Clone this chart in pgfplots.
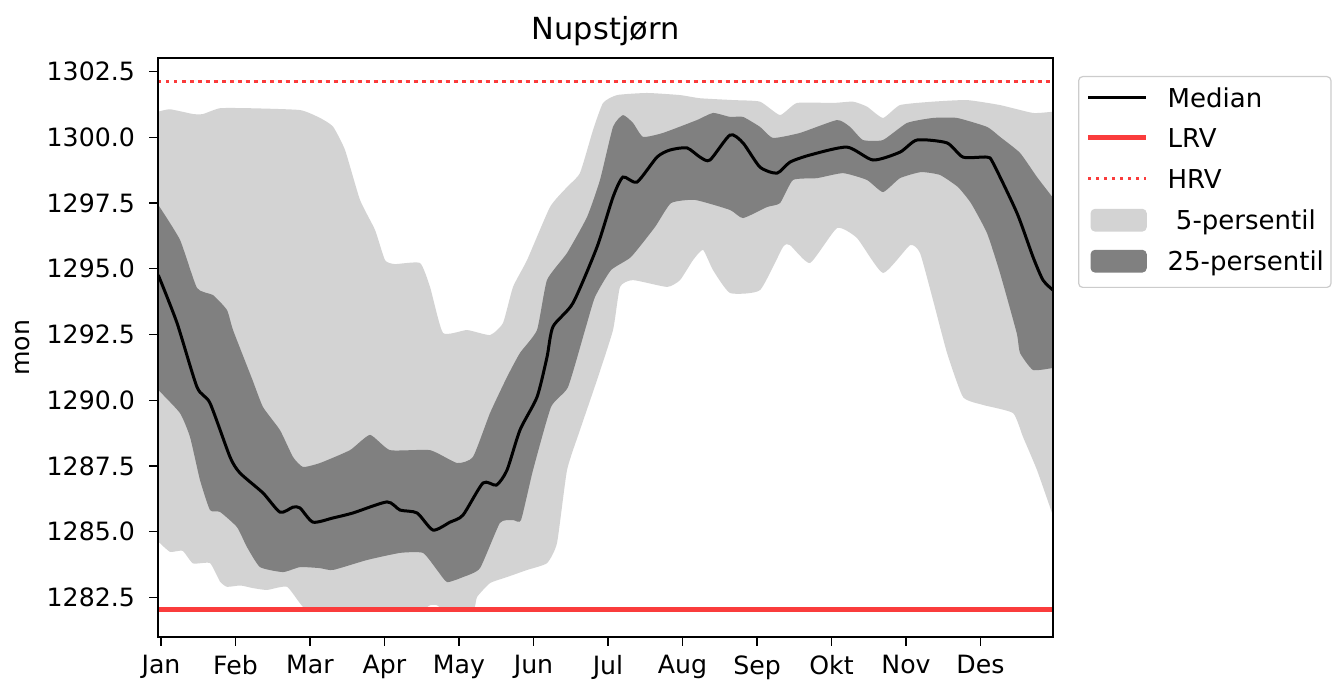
\documentclass[border=0pt]{standalone}
\usepackage{fontspec}
\setmainfont{DejaVu Sans}
\usepackage{pgfplots}
\pgfplotsset{compat=1.18}
\usepgfplotslibrary{fillbetween}
\definecolor{lightband}{HTML}{D3D3D3}
\definecolor{darkband}{HTML}{808080}
\definecolor{refred}{RGB}{250,60,60}
\definecolor{legframe}{HTML}{CCCCCC}

\begin{document}
\begin{tikzpicture}
\begin{axis}[
  scale only axis, width=447.35pt, height=289.35pt,
  xmin=-1.09, xmax=359.2, ymin=1280.99, ymax=1303.01,
  xtick={0,30,...,330},
  xticklabels={Jan,Feb,Mar,Apr,May,Jun,Jul,Aug,Sep,Okt,Nov,Des},
  ytick={1282.5,1285,...,1302.5},
  tick pos=left,
  tick align=outside, major tick length=4.5pt,
  tick style={black, line width=0.6pt},
  axis line style={black, line width=0.8pt},
  axis on top,
  tick label style={font=\fontsize{12.6}{15}\selectfont},
  /pgf/number format/assume math mode=true,
  y tick label style={/pgf/number format/fixed, /pgf/number format/fixed zerofill, /pgf/number format/precision=1, /pgf/number format/1000 sep={}},
  xticklabel style={inner sep=0pt, anchor=north, yshift=-4.5pt},
  yticklabel style={inner sep=0pt, anchor=east, xshift=-7pt},
  title={Nupstjørn},
  title style={at={(axis description cs:0.5,1.012)}, anchor=base, inner sep=0pt, font=\fontsize{15.2}{18}\selectfont},
  ylabel={mon},
  ylabel style={at={(axis description cs:-0.1434,0.5)}, anchor=base, inner sep=0pt, font=\fontsize{12.6}{15}\selectfont},
  legend cell align=left,
  legend style={at={(1.028,0.9694)}, anchor=north west, draw=legframe, rounded corners=2pt, line width=0.6pt,
    font=\fontsize{13}{15}\selectfont, inner xsep=3.5pt, inner ysep=5.5pt, row sep=7.2pt, column sep=9.5pt,
    nodes={inner sep=0pt, text height=10pt, text depth=3pt, anchor=base west}},
]
% 5-percentile band
\addplot[name path=lu, draw=none, smooth, tension=0.3, forget plot] coordinates {
(-1.09,1300.98)(3.63,1301.07)(12.89,1300.89)(16.92,1300.89)(23.76,1301.11)(35.84,1301.11)(55.98,1301.04)(64.03,1300.74)(69.27,1300.41)(74.10,1299.52)(80.14,1297.62)(86.18,1296.48)(90.21,1295.33)(94.23,1295.18)(104.3,1295.22)(108.33,1294.31)(113.56,1292.56)(123.22,1292.67)(132.49,1292.48)(137.72,1292.94)(141.75,1294.31)(147.39,1295.33)(156.65,1297.35)(163.50,1298.11)(168.73,1298.65)(173.97,1300.28)(178.0,1301.31)(183.63,1301.61)(195.71,1301.69)(209.0,1301.61)(217.05,1301.49)(230.34,1301.42)(241.21,1301.36)(249.27,1300.85)(256.11,1301.31)(270.61,1301.31)(278.66,1301.36)(284.3,1301.17)(290.74,1300.74)(297.59,1301.23)(310.88,1301.36)(324.57,1301.42)(337.86,1301.23)(351.15,1300.93)(359.2,1300.98)
};
\addplot[name path=ll, draw=none, smooth, tension=0.3, forget plot] coordinates {
(-1.09,1284.62)(3.63,1284.23)(8.7,1284.27)(12.89,1283.79)(19.73,1283.80)(23.76,1283.1)(26.58,1282.90)(32.0,1282.95)(37.05,1282.85)(42.69,1282.78)(50.74,1282.90)(57.18,1282.14)(64.03,1282.0)(76.11,1281.95)(88.19,1282.0)(104.3,1282.0)(108.33,1282.2)(111.1,1282.2)(114.4,1282.0)(125.64,1282.0)(127.25,1282.51)(132.49,1283.04)(139.33,1283.27)(147.39,1283.54)(155.44,1283.80)(159.47,1284.57)(163.50,1287.34)(168.73,1288.87)(175.58,1290.77)(182.02,1292.67)(184.84,1294.31)(190.07,1294.57)(203.77,1294.31)(209.0,1294.57)(214.23,1295.33)(218.26,1295.72)(222.29,1294.95)(229.13,1294.08)(241.21,1294.19)(250.47,1295.83)(253.3,1295.90)(261.35,1295.22)(272.22,1296.55)(280.27,1296.17)(290.74,1294.84)(301.62,1295.90)(305.65,1295.60)(310.88,1293.81)(316.52,1291.80)(322.97,1290.12)(331.02,1289.82)(343.1,1289.51)(347.13,1288.60)(352.76,1287.34)(359.2,1285.6)
};
\addplot[lightband, forget plot] fill between[of=lu and ll];
% 25-percentile band
\addplot[name path=du, draw=none, smooth, tension=0.3, forget plot] coordinates {
(-1.09,1297.43)(7.65,1296.10)(14.5,1294.27)(20.94,1294.00)(26.58,1293.43)(29.0,1292.67)(36.84,1290.77)(41.07,1289.74)(47.92,1288.86)(53.15,1287.84)(57.18,1287.46)(64.03,1287.61)(76.11,1288.10)(84.16,1288.68)(92.22,1288.10)(108.33,1288.10)(119.2,1287.61)(125.64,1287.84)(132.49,1289.51)(139.33,1290.88)(144.57,1291.80)(151.41,1292.67)(155.44,1294.57)(163.5,1295.60)(171.56,1296.97)(176.78,1298.38)(182.02,1300.40)(186.04,1300.85)(190.07,1300.55)(194.1,1300.02)(202.15,1300.17)(215.84,1300.66)(222.29,1300.93)(229.13,1300.78)(234.36,1300.78)(241.21,1300.40)(246.45,1299.98)(257.32,1300.17)(272.22,1300.66)(277.46,1300.40)(282.69,1299.90)(290.74,1299.90)(300.41,1300.55)(310.88,1300.74)(320.54,1300.74)(332.62,1300.40)(337.86,1300.02)(345.91,1299.41)(352.76,1298.49)(359.2,1297.70)
};
\addplot[name path=dl, draw=none, smooth, tension=0.3, forget plot] coordinates {
(-1.09,1290.39)(7.65,1289.51)(11.69,1288.60)(15.71,1286.96)(19.73,1285.82)(23.76,1285.75)(30.61,1285.17)(34.63,1284.41)(39.87,1283.65)(49.13,1283.46)(55.98,1283.65)(64.03,1283.61)(69.27,1283.54)(82.96,1283.92)(96.25,1284.19)(105.51,1284.19)(111.15,1283.54)(115.18,1283.08)(121.61,1283.27)(128.46,1283.61)(136.48,1285.33)(141.75,1285.44)(144.97,1285.44)(149.8,1287.34)(157.05,1289.74)(163.9,1290.50)(170.74,1292.67)(174.77,1293.93)(181.21,1294.95)(189.27,1295.45)(198.93,1296.59)(205.37,1297.50)(215.04,1297.62)(229.13,1297.24)(234.36,1296.93)(244.03,1297.35)(249.27,1297.50)(254.5,1298.38)(264.17,1298.45)(274.64,1298.64)(284.3,1298.38)(290.74,1297.92)(297.59,1298.45)(306.02,1298.68)(313.7,1298.57)(320.92,1298.11)(326.15,1297.50)(332.62,1296.36)(337.86,1294.84)(344.57,1292.56)(345.91,1291.80)(351.15,1291.15)(359.2,1291.23)
};
\addplot[darkband, forget plot] fill between[of=du and dl];
% median
\addplot[black, line width=1.5pt, smooth, tension=0.4, forget plot] coordinates {
(-1.09,1294.76)(6.44,1292.94)(14.5,1290.50)(19.73,1289.89)(27.79,1287.84)(31.81,1287.23)(41.07,1286.47)(47.92,1285.74)(53.15,1285.93)(55.98,1285.90)(61.21,1285.36)(69.27,1285.52)(77.32,1285.71)(91.01,1286.13)(96.25,1285.82)(103.1,1285.71)(109.53,1285.06)(116.38,1285.36)(121.61,1285.63)(129.67,1286.85)(135.07,1286.77)(139.33,1287.34)(144.57,1288.87)(151.41,1290.12)(155.44,1291.64)(157.86,1292.80)(165.91,1293.70)(175.58,1295.83)(182.02,1297.73)(186.04,1298.49)(191.68,1298.30)(199.73,1299.25)(204.97,1299.52)(211.81,1299.60)(217.05,1299.25)(221.08,1299.14)(229.13,1300.09)(234.36,1299.79)(241.21,1298.87)(248.06,1298.64)(253.3,1299.06)(261.35,1299.33)(276.25,1299.63)(286.72,1299.14)(297.59,1299.44)(304.44,1299.90)(316.52,1299.79)(322.97,1299.25)(332.62,1299.25)(335.04,1299.03)(344.7,1297.12)(351.15,1295.45)(355.17,1294.57)(359.2,1294.19)
};
% LRV and HRV
\addplot[refred, line width=2.5pt, forget plot] coordinates {(-1.09,1282.02)(359.2,1282.02)};
\addplot[refred, line width=1.5pt, line cap=butt, dash pattern=on 1.6pt off 2.4pt, forget plot] coordinates {(-1.09,1302.13)(359.2,1302.13)};
% legend
\addlegendimage{legend image code/.code={\draw[black, line width=1.5pt] (0pt,5pt) -- (29pt,5pt);}}
\addlegendentry{Median}
\addlegendimage{legend image code/.code={\draw[refred, line width=2.5pt] (0pt,5pt) -- (29pt,5pt);}}
\addlegendentry{LRV}
\addlegendimage{legend image code/.code={\draw[refred, line width=1.5pt, line cap=butt, dash pattern=on 1.6pt off 2.4pt] (0pt,5pt) -- (29pt,5pt);}}
\addlegendentry{HRV}
\addlegendimage{legend image code/.code={\fill[lightband] (1.5pt,-0.8pt) rectangle (29pt,10pt);}}
\addlegendentry{\hspace{0.32em}5-persentil}
\addlegendimage{legend image code/.code={\fill[darkband] (1.5pt,-0.8pt) rectangle (29pt,10pt);}}
\addlegendentry{25-persentil}
\end{axis}
\pgfresetboundingbox
\useasboundingbox (-79.15pt,-23.5pt) rectangle (592.35pt,318.5pt);
\end{tikzpicture}
\end{document}
